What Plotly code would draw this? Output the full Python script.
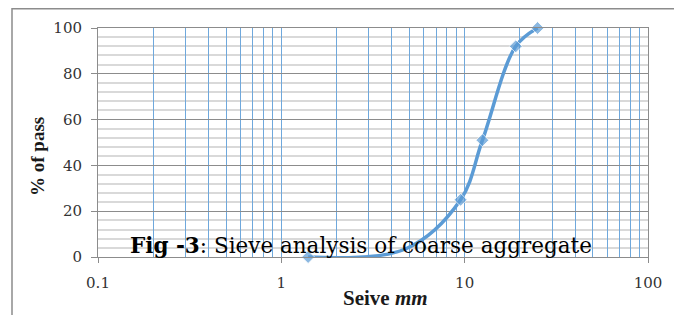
import plotly.graph_objects as go

sieve_mm = [1.4, 4.75, 9.5, 12.5, 19, 25]
pct_pass = [0, 3.5, 25, 51, 92, 100]
marker_sizes = [10, 0, 10, 10, 10, 10]

x_major = [0.1, 1, 10, 100]
x_major_text = ["0.1", "1", "10", "100"]
x_minor = [m * d for d in (0.1, 1, 10) for m in range(2, 10)]

# the browser page adds an 8px body margin; plot area target (page px): x 98..648, y 28..257
OFF = 8
W, H = 682 - OFF, 315 - OFF
L, R, T, B = 98 - OFF, 34, 28 - OFF, 58
pw, ph = 550, 229

def px(xp):
    return (xp - 98) / pw

def py(yp):
    return (257 - yp) / ph

blue = "#5b9bd5"
grid_blue = "#6fa8dc"
gray = "#8c8c8c"

fig = go.Figure()
fig.add_trace(go.Scatter(
    x=sieve_mm, y=pct_pass, mode="lines+markers",
    line=dict(color=blue, width=3.5, shape="spline", smoothing=1),
    marker=dict(symbol="diamond", size=marker_sizes, color=blue),
    showlegend=False, cliponaxis=False,
))

all_x = x_major + x_minor
all_text = x_major_text + [""] * len(x_minor)
tick_font = dict(family="DejaVu Serif", size=15, color="#333333")
fig.update_xaxes(
    type="log", range=[-1, 2],
    tickvals=all_x, ticktext=all_text,
    showgrid=True, gridcolor=grid_blue, gridwidth=1,
    ticks="", ticklabelstandoff=12,
    tickfont=tick_font,
    showline=True, linecolor=gray, mirror=True,
    minor=dict(tickvals=x_major, showgrid=True, gridcolor=gray, gridwidth=1,
               ticks="outside", ticklen=5, tickcolor=gray),
    zeroline=False,
)
fig.update_yaxes(
    range=[0, 100], dtick=20,
    showgrid=True, gridcolor=gray, gridwidth=1,
    ticks="outside", ticklen=6, tickcolor=gray,
    ticklabelstandoff=6,
    tickfont=tick_font,
    showline=True, linecolor=gray, mirror=True,
    minor=dict(dtick=4, showgrid=True, gridcolor="#d9d9d9", gridwidth=1.5, ticks=""),
    zeroline=False,
)

fig.add_shape(type="rect", xref="paper", yref="paper",
              x0=px(12), x1=px(677), y0=py(330), y1=py(8.7),
              line=dict(color=gray, width=1.5), fillcolor="rgba(0,0,0,0)", layer="below")

fig.add_annotation(text="<b>Seive <i>mm</i></b>", xref="paper", yref="paper",
                   x=px(385), y=py(298), showarrow=False, xanchor="center", yanchor="middle",
                   font=dict(family="Liberation Serif", size=21, color="#1a1a1a"))
fig.add_annotation(text="<b>% of pass</b>", xref="paper", yref="paper",
                   x=px(37), y=py(157), showarrow=False, textangle=-90,
                   xanchor="center", yanchor="middle",
                   font=dict(family="Liberation Serif", size=19, color="#1a1a1a"))
fig.add_annotation(text="<b>Fig -3</b>: Sieve analysis of coarse aggregate", xref="paper", yref="paper",
                   x=px(128), y=py(245), showarrow=False, xanchor="left", yanchor="middle",
                   font=dict(family="DejaVu Serif", size=21.5, color="#000000"))

fig.update_layout(
    width=W, height=H, margin=dict(l=L, r=R, t=T, b=B),
    paper_bgcolor="white", plot_bgcolor="white",
)
fig.write_html("out.html")
